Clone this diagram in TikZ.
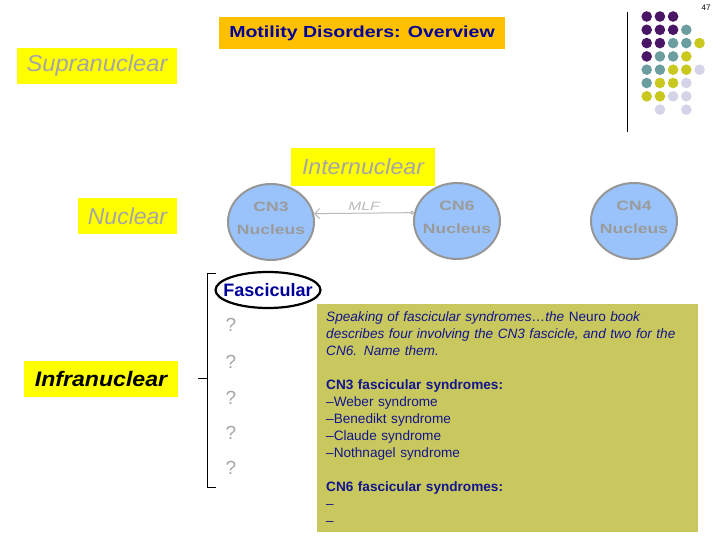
\documentclass[tikz,border=0pt]{standalone}
\usepackage{fontspec}
\setmainfont{Liberation Sans}
\usepackage{graphicx}
\usetikzlibrary{shapes.geometric,arrows.meta}
\definecolor{titlebg}{RGB}{255,192,0}
\definecolor{titleblue}{RGB}{0,0,153}
\definecolor{hiyellow}{RGB}{255,255,0}
\definecolor{labgray}{RGB}{165,165,165}
\definecolor{nucfill}{RGB}{153,195,250}
\definecolor{nucline}{RGB}{150,150,150}
\definecolor{nuctext}{RGB}{155,155,155}
\definecolor{mlfgray}{RGB}{185,185,185}
\definecolor{boxfill}{RGB}{200,200,95}
\definecolor{boxtext}{RGB}{20,20,140}
\definecolor{dotP}{RGB}{72,22,100}
\definecolor{dotT}{RGB}{108,158,160}
\definecolor{dotY}{RGB}{200,200,30}
\definecolor{dotL}{RGB}{212,212,232}
\newcommand{\hs}[2]{\scalebox{#1}[1]{#2}}
\newcommand{\nuctxt}[1]{\smash{\makebox[0pt]{\raisebox{0pt}{\parbox{80pt}{\centering\hs{1.3}{#1}\\\hs{1.3}{Nucleus}}}}}}
\begin{document}
\begin{tikzpicture}[x=1pt,y=-1pt,
  levelbox/.style={fill=hiyellow, inner sep=0pt, text=labgray, font=\fontsize{23}{26}\selectfont\itshape},
  nucleus/.style={ellipse, draw=nucline, line width=2pt, fill=nucfill, minimum width=86pt, minimum height=76pt, inner sep=0pt, text=nuctext, font=\fontsize{13.5}{23}\selectfont\bfseries},
  qmark/.style={text=labgray, font=\fontsize{19}{21}\selectfont, inner sep=0pt},
  dot/.style={circle, inner sep=0pt, minimum size=10.6pt},
  mlf/.style={draw=mlfgray, line width=1pt, arrows={Circle[open,length=4pt,width=4pt]-Straight Barb[length=5pt,width=10pt]}}
]
\useasboundingbox (0,0) rectangle (720,540);

% page number and decoration
\node[font=\fontsize{8}{9}\selectfont, inner sep=0pt] (pg) at (706,8) {47};
\draw[line width=1pt] (627.3,12) -- (627.3,132);
\foreach \c/\r/\col in {1/1/dotP,2/1/dotP,3/1/dotP,
  1/2/dotP,2/2/dotP,3/2/dotP,4/2/dotT,
  1/3/dotP,2/3/dotP,3/3/dotT,4/3/dotT,5/3/dotY,
  1/4/dotP,2/4/dotT,3/4/dotT,4/4/dotY,
  1/5/dotT,2/5/dotT,3/5/dotY,4/5/dotY,5/5/dotL,
  1/6/dotT,2/6/dotY,3/6/dotY,4/6/dotL,
  1/7/dotY,2/7/dotY,3/7/dotL,4/7/dotL,
  2/8/dotL,4/8/dotL}
  \node[dot, fill=\col] (d\c\r) at ({633.5+13.2*\c},{3.2+13.3*\r}) {};

% title
\node[fill=titlebg, text=titleblue, inner sep=0pt, minimum width=286pt, minimum height=32pt,
      font=\fontsize{16}{18}\selectfont\bfseries] (title) at (362,33) {\hs{1.22}{Motility Disorders: Overview}};

% level labels
\node[levelbox, minimum width=160pt, minimum height=36pt] (supra) at (97,66) {\hs{1.03}{Supranuclear}};
\node[levelbox, minimum width=99pt, minimum height=36pt] (nuclear) at (127.5,216) {Nuclear};
\node[levelbox, minimum width=144pt, minimum height=38pt, font=\fontsize{22}{26}\selectfont\itshape] (inter) at (363,167) {\hs{1.05}{Internuclear}};
\node[levelbox, minimum width=154pt, minimum height=36pt, text=black, font=\fontsize{21}{24}\selectfont\bfseries\itshape] (infra) at (101,379) {\hs{1.1}{Infranuclear}};

% nuclei
\node[nucleus] (cn3) at (271,222) {\nuctxt{CN3}};
\node[nucleus] (cn6) at (457,221) {\nuctxt{CN6}};
\node[nucleus] (cn4) at (634,221) {\nuctxt{CN4}};

\draw[mlf] (cn6.169) -- node[above, inner sep=2pt, text=mlfgray, font=\fontsize{12}{14}\selectfont\itshape] (mlflabel) {\hs{1.3}{MLF}} (cn3.11);

% notes box
\node[fill=boxfill, anchor=north west, minimum width=381pt, minimum height=228pt, text width=363pt,
      inner xsep=9pt, align=left, text=boxtext, font=\fontsize{13.6}{17}\selectfont] (notes) at (317,304)
{\textit{Speaking of fascicular syndromes\ldots the} Neuro \textit{book}\\
 \textit{describes four involving the CN3 fascicle, and two for the}\\
 \textit{CN6. Name them.}\\[17pt]
 \textbf{CN3 fascicular syndromes:}\\
 –Weber syndrome\\
 –Benedikt syndrome\\
 –Claude syndrome\\
 –Nothnagel syndrome\\[17pt]
 \textbf{CN6 fascicular syndromes:}\\
 –\\
 –};

% fascicular
\node[ellipse, draw=black, line width=2.2pt, fill=white, minimum width=105pt, minimum height=36pt, inner sep=0pt,
      text=titleblue, font=\fontsize{18}{20}\selectfont\bfseries] (fasc) at (268,290) {\makebox[0pt]{Fascicular}};

% question marks
\node[qmark] (q1) at (231,325) {?};
\node[qmark] (q2) at (231,362) {?};
\node[qmark] (q3) at (231,398) {?};
\node[qmark] (q4) at (231,433) {?};
\node[qmark] (q5) at (231,468) {?};

% brace
\draw[line width=0.8pt] (216,273) -- (207,273) -- (207,487) -- (216,487);
\draw[line width=0.8pt] (207,378) -- (198,378);
\end{tikzpicture}
\end{document}
